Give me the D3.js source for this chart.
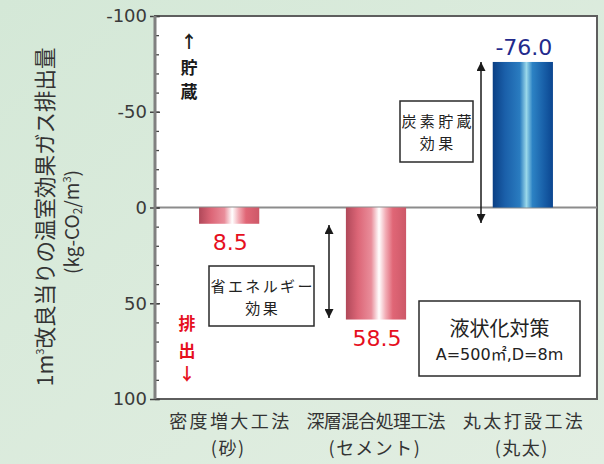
<!DOCTYPE html>
<html>
<head>
<meta charset="utf-8">
<script src="https://cdn.jsdelivr.net/npm/d3@7/dist/d3.min.js"></script>
<style>
  html, body { margin: 0; padding: 0; }
  body { width: 604px; height: 464px; overflow: hidden; }
  svg { display: block; font-family: "Noto Sans CJK JP", "Noto Sans", sans-serif; }
</style>
</head>
<body>
<svg id="chart" width="604" height="464"></svg>
<script>
// Greenhouse gas emission per m3 of ground improvement, by method
const categories = ["密度増大工法", "深層混合処理工法", "丸太打設工法"];
const subLabels = ["(砂)", "(セメント)", "(丸太)"];
const values = [8.5, 58.5, -76.0];
const valueLabels = ["8.5", "58.5", "-76.0"];
const majorTicks = [-100, -50, 0, 50, 100];
const minorTicks = d3.range(-100, 101, 10);

const numFont = "'DejaVu Sans', 'Noto Sans CJK JP', sans-serif";

const svg = d3.select("#chart");
const defs = svg.append("defs");

// background wash
const bg = defs.append("linearGradient").attr("id", "bg")
  .attr("x1", 0).attr("y1", 0).attr("x2", 1).attr("y2", 1);
bg.append("stop").attr("offset", 0).attr("stop-color", "#d4e8d7");
bg.append("stop").attr("offset", 1).attr("stop-color", "#e2eee2");
svg.append("rect").attr("width", 604).attr("height", 464).attr("fill", "url(#bg)");

// cylinder shading for the bars
function cyl(id, stops) {
  const g = defs.append("linearGradient").attr("id", id)
    .attr("x1", 0).attr("y1", 0).attr("x2", 1).attr("y2", 0);
  stops.forEach(([o, c]) => g.append("stop").attr("offset", o).attr("stop-color", c));
}
cyl("pink", [[0, "#b04859"], [0.2, "#dc6677"], [0.42, "#e98d9a"], [0.55, "#ffffff"], [0.66, "#f2acb5"], [0.78, "#e06676"], [1, "#cd5868"]]);
cyl("blue", [[0, "#0a3f84"], [0.2, "#1a5fa9"], [0.45, "#2a7cc0"], [0.56, "#9ad8ea"], [0.66, "#2c82c4"], [0.85, "#185fa8"], [1, "#0b4690"]]);

const plot = { left: 155, right: 597, top: 16, bottom: 399 };

const y = d3.scaleLinear().domain([-100, 100]).range([plot.top, plot.bottom]);
const x = d3.scaleBand().domain(categories)
  .range([plot.left, plot.right]).paddingInner(0.59).paddingOuter(0.3);

// plot panel
svg.append("rect")
  .attr("x", plot.left).attr("y", plot.top)
  .attr("width", plot.right - plot.left).attr("height", plot.bottom - plot.top)
  .attr("fill", "#ffffff").attr("stroke", "#5e5e5e").attr("stroke-width", 2);

// zero line
svg.append("line")
  .attr("x1", plot.left).attr("x2", plot.right)
  .attr("y1", y(0)).attr("y2", y(0))
  .attr("stroke", "#8c8c8c").attr("stroke-width", 2);

// bars
svg.append("g").selectAll("rect").data(values).join("rect")
  .attr("x", (d, i) => x(categories[i]))
  .attr("width", x.bandwidth())
  .attr("y", d => Math.min(y(0), y(d)))
  .attr("height", d => Math.abs(y(d) - y(0)))
  .attr("fill", d => d < 0 ? "url(#blue)" : "url(#pink)");

// value labels
svg.append("g").selectAll("text").data(values).join("text")
  .attr("x", (d, i) => x(categories[i]) + x.bandwidth() / 2 + 1)
  .attr("y", d => d < 0 ? y(d) - 7 : y(d) + 26)
  .attr("text-anchor", "middle")
  .attr("font-family", numFont)
  .attr("font-size", 22)
  .attr("fill", d => d < 0 ? "#232a8c" : "#e60f1e")
  .text((d, i) => valueLabels[i]);

// minor ticks (inside)
const minorAxis = d3.axisRight(y).tickValues(minorTicks).tickSize(4).tickFormat("");
svg.append("g").attr("transform", `translate(${plot.left},0)`).call(minorAxis)
  .call(g => g.select(".domain").remove())
  .call(g => g.selectAll("line").attr("stroke", "#444").attr("stroke-width", 1.3));

// major ticks and labels
const yAxis = d3.axisLeft(y).tickValues(majorTicks).tickSize(5).tickPadding(3)
  .tickFormat(d => String(d));
svg.append("g").attr("transform", `translate(${plot.left},0)`).call(yAxis)
  .call(g => g.select(".domain").remove())
  .call(g => g.selectAll(".tick line").attr("x2", -5).attr("x1", 5)
    .attr("stroke", "#444").attr("stroke-width", 1.5))
  .call(g => g.selectAll("text").attr("font-size", 18).attr("fill", "#3a3a3a")
    .attr("font-family", numFont));

// axis spine
svg.append("line")
  .attr("x1", plot.left).attr("x2", plot.left)
  .attr("y1", plot.top).attr("y2", plot.bottom)
  .attr("stroke", "#808080").attr("stroke-width", 3);

// y axis title
const title = svg.append("text")
  .attr("transform", "translate(53,217) rotate(-90)")
  .attr("text-anchor", "middle").attr("font-size", 21.5).attr("fill", "#333");
title.append("tspan").text("1m");
title.append("tspan").attr("font-size", 11).attr("dy", -9).text("3");
title.append("tspan").attr("dy", 9).text("改良当りの温室効果ガス排出量");

const unit = svg.append("text")
  .attr("transform", "translate(79,222) rotate(-90)")
  .attr("text-anchor", "middle").attr("font-size", 19).attr("fill", "#333");
unit.append("tspan").text("(kg-CO");
unit.append("tspan").attr("font-size", 12).attr("dy", 3).text("2");
unit.append("tspan").attr("dy", -3).text("/m");
unit.append("tspan").attr("font-size", 11).attr("dy", -8).text("3");
unit.append("tspan").attr("dy", 8).text(")");

// category labels
const cat = svg.append("g").attr("font-size", 18).attr("fill", "#333").attr("text-anchor", "middle");
cat.selectAll("text.c1").data(categories).join("text").attr("class", "c1")
  .attr("x", d => x(d) + x.bandwidth() / 2)
  .attr("y", 428)
  .attr("textLength", d => d.length > 6 ? 139 : 120)
  .attr("lengthAdjust", "spacing")
  .text(d => d);
cat.selectAll("text.c2").data(subLabels).join("text").attr("class", "c2")
  .attr("x", (d, i) => x(categories[i]) + x.bandwidth() / 2 - 1)
  .attr("y", 455)
  .attr("letter-spacing", 1.5)
  .text(d => d);

// storage / emission direction markers
const dir = svg.append("g").attr("font-size", 17).attr("text-anchor", "middle").attr("font-weight", "bold");
[["↑", 48], ["貯", 74], ["蔵", 98]].forEach(([t, yy]) =>
  dir.append("text").attr("x", 189).attr("y", yy).attr("fill", "#1a1a1a").text(t));
[["排", 330], ["出", 357], ["↓", 380]].forEach(([t, yy]) =>
  dir.append("text").attr("x", 187).attr("y", yy).attr("fill", "#e60f1e").text(t));

// arrowheads
["start", "end"].forEach(k => {
  defs.append("marker").attr("id", "ah-" + k)
    .attr("viewBox", "0 0 10 10").attr("refX", 10).attr("refY", 5)
    .attr("markerWidth", 9).attr("markerHeight", 9).attr("markerUnits", "userSpaceOnUse")
    .attr("orient", "auto-start-reverse")
    .append("path").attr("d", "M0,0 L10,5 L0,10 Z").attr("fill", "#1a1a1a");
});
function dArrow(xx, y1, y2) {
  svg.append("line").attr("x1", xx).attr("x2", xx).attr("y1", y1).attr("y2", y2)
    .attr("stroke", "#1a1a1a").attr("stroke-width", 1.5)
    .attr("marker-start", "url(#ah-start)").attr("marker-end", "url(#ah-end)");
}
dArrow(329, 225, 318);
dArrow(481, 62, 223);

// annotation boxes
function box(x0, y0, w, h, lines) {
  svg.append("rect").attr("x", x0).attr("y", y0).attr("width", w).attr("height", h)
    .attr("fill", "#fff").attr("stroke", "#2a2a2a").attr("stroke-width", 1.5);
  lines.forEach(([s, yy, fs, ls, ff]) => svg.append("text")
    .attr("text-anchor", "middle").attr("fill", "#222")
    .attr("x", x0 + w / 2 + (ls || 0) / 2).attr("y", yy)
    .attr("letter-spacing", ls || null)
    .attr("font-size", fs).attr("font-family", ff || null).text(s));
}
box(209, 266, 105, 60, [["省エネルギー", 292, 15, 2.4], ["効果", 314, 15, 2.4]]);
box(400, 101, 73, 61, [["炭素貯蔵", 127, 15, 3.4], ["効果", 149, 15, 3.4]]);
box(419, 301, 161, 75, [["液状化対策", 336, 20], ["A=500㎡,D=8m", 360, 16, 0, numFont]]);
</script>
</body>
</html>
